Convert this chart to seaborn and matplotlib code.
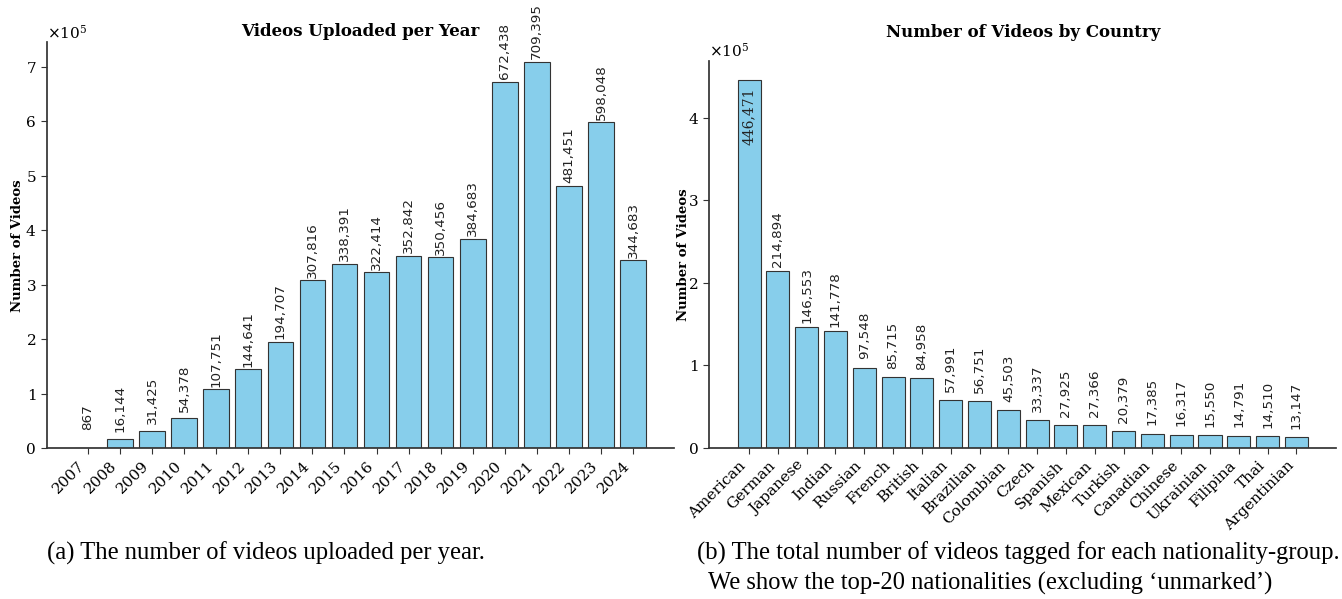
import numpy as np
import pandas as pd
import matplotlib
matplotlib.use("Agg")
import matplotlib.pyplot as plt
import seaborn as sns

# Videos uploaded per year
years = ["2007", "2008", "2009", "2010", "2011", "2012", "2013", "2014", "2015",
         "2016", "2017", "2018", "2019", "2020", "2021", "2022", "2023", "2024"]
year_counts = [867, 16144, 31425, 54378, 107751, 144641, 194707, 307816, 338391,
               322414, 352842, 350456, 384683, 672438, 709395, 481451, 598048, 344683]

# Top-20 nationality groups
countries = ["American", "German", "Japanese", "Indian", "Russian", "French", "British",
             "Italian", "Brazilian", "Colombian", "Czech", "Spanish", "Mexican", "Turkish",
             "Canadian", "Chinese", "Ukrainian", "Filipina", "Thai", "Argentinian"]
country_counts = [446471, 214894, 146553, 141778, 97548, 85715, 84958, 57991, 56751,
                  45503, 33337, 27925, 27366, 20379, 17385, 16317, 15550, 14791, 14510, 13147]

sns.set_theme(style="ticks")
plt.rcParams["font.family"] = ["DejaVu Serif"]
plt.rcParams["text.color"] = "black"
plt.rcParams["axes.labelcolor"] = "black"
plt.rcParams["axes.titlecolor"] = "black"
plt.rcParams["axes.edgecolor"] = "#333333"
plt.rcParams["xtick.color"] = "#333333"
plt.rcParams["ytick.color"] = "#333333"
plt.rcParams["xtick.labelcolor"] = "black"
plt.rcParams["ytick.labelcolor"] = "black"

BAR = "#87CEEB"
EDGE = "#333333"

fig = plt.figure(figsize=(13.42, 5.99), dpi=100)
ax1 = fig.add_axes([0.03472, 0.2521, 0.4678, 0.6770])
ax2 = fig.add_axes([0.5283, 0.2521, 0.4676, 0.6457])


def draw(ax, cats, vals, title, title_pad, label_pad):
    df = pd.DataFrame({"cat": cats, "val": vals})
    sns.barplot(data=df, x="cat", y="val", color=BAR, saturation=1, width=0.8,
                edgecolor=EDGE, linewidth=0.8, ax=ax)
    n = len(cats)
    m = 0.4 + 0.05 * (n - 1 + 0.8)
    ax.set_xlim(-m, n - 1 + m)
    ax.set_ylim(0, max(vals) * 1.05)
    ax.ticklabel_format(axis="y", style="sci", scilimits=(0, 0), useMathText=True)
    ax.yaxis.get_offset_text().set_fontsize(11)
    ax.set_title(title, fontsize=12, fontweight="bold", pad=title_pad)
    ax.set_xlabel("")
    ax.set_ylabel("Number of Videos", fontsize=9.5, fontweight="bold", labelpad=label_pad)
    ax.tick_params(axis="x", labelsize=11, length=4, width=0.8)
    ax.tick_params(axis="y", labelsize=11, length=4, width=0.8)
    plt.setp(ax.get_xticklabels(), rotation=45, ha="right")
    sns.despine(ax=ax)


def value_labels(ax, vals, lift, skip_first=False):
    # rotated counts centred a fixed distance above each bar
    for i, v in enumerate(vals):
        if skip_first and i == 0:
            continue
        ax.annotate(f"{v:,}", xy=(i, v), xytext=(0, lift), textcoords="offset points",
                    rotation=90, ha="center", va="center", fontsize=9.7,
                    family="DejaVu Sans", color="#222222")


draw(ax1, years, year_counts, "Videos Uploaded per Year", 4.5, 0.5)
draw(ax2, countries, country_counts, "Number of Videos by Country", 17.5, -2)

value_labels(ax1, year_counts, 22.0)
value_labels(ax2, country_counts, 23.0, skip_first=True)
ax2.annotate(f"{country_counts[0]:,}", xy=(0, country_counts[0]), xytext=(0, -6),
             textcoords="offset points", rotation=90, ha="center", va="top",
             fontsize=10, color="#222222")

cap = dict(family="Liberation Serif", fontsize=17.7, va="center", ha="left", color="black")
fig.text(47 / 1342, 1 - 553 / 599, "(a) The number of videos uploaded per year.", **cap)
fig.text(697 / 1342, 1 - 553 / 599,
         "(b) The total number of videos tagged for each nationality-group.", **cap)
fig.text(708 / 1342, 1 - 583 / 599,
         "We show the top-20 nationalities (excluding \u2018unmarked\u2019)", **cap)

fig.savefig("out.png", dpi=100)
